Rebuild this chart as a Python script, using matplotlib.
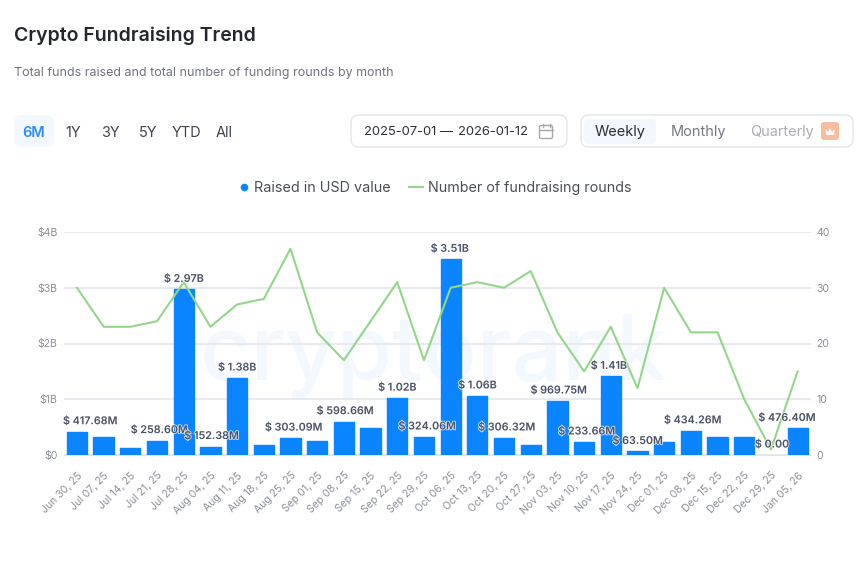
import matplotlib
matplotlib.use("Agg")
import matplotlib.pyplot as plt
import matplotlib.patheffects as pe
from matplotlib.patches import FancyBboxPatch
from matplotlib.lines import Line2D

plt.rcParams['font.family'] = ['Inter', 'DejaVu Sans']

weeks = ['Jun 30, 25', 'Jul 07, 25', 'Jul 14, 25', 'Jul 21, 25', 'Jul 28, 25', 'Aug 04, 25', 'Aug 11, 25',
         'Aug 18, 25', 'Aug 25, 25', 'Sep 01, 25', 'Sep 08, 25', 'Sep 15, 25', 'Sep 22, 25', 'Sep 29, 25',
         'Oct 06, 25', 'Oct 13, 25', 'Oct 20, 25', 'Oct 27, 25', 'Nov 03, 25', 'Nov 10, 25', 'Nov 17, 25',
         'Nov 24, 25', 'Dec 01, 25', 'Dec 08, 25', 'Dec 15, 25', 'Dec 22, 25', 'Dec 29, 25', 'Jan 05, 26']
raised = [417.68, 320, 125, 258.60, 2970, 152.38, 1380, 175, 303.09, 260, 598.66, 480, 1020, 324.06,
          3510, 1060, 306.32, 175, 969.75, 233.66, 1410, 63.50, 225, 434.26, 320, 320, 0, 476.40]
rounds = [30, 23, 23, 24, 31, 23, 27, 28, 37, 22, 17, 24, 31, 17, 30, 31, 30, 33, 22, 15, 23, 12, 30, 22, 22, 10, 1, 15]
# only some bars carry a label in the original
labels = {0: '$ 417.68M', 3: '$ 258.60M', 4: '$ 2.97B', 5: '$ 152.38M', 6: '$ 1.38B', 8: '$ 303.09M',
          10: '$ 598.66M', 12: '$ 1.02B', 13: '$ 324.06M', 14: '$ 3.51B', 15: '$ 1.06B', 16: '$ 306.32M',
          18: '$ 969.75M', 19: '$ 233.66M', 20: '$ 1.41B', 21: '$ 63.50M', 23: '$ 434.26M', 26: '$ 0.00',
          27: '$ 476.40M'}
# sideways nudge of the labels in px, the chart keeps them inside its plot area
label_shift = {0: 13, 3: 2, 5: 1, 8: 3, 10: 1, 13: 3, 14: -1, 16: 2.5, 18: 1, 19: 2.4, 20: -2, 23: 1.6, 26: 1, 27: -11}
left_ticks = ['$0', '$1B', '$2B', '$3B', '$4B']
right_ticks = [0, 10, 20, 30, 40]

W, H = 858, 569
BLUE = '#0a84ff'
GREEN = '#93d68a'
GREY = '#8b8f98'
DARK = '#2b2f38'


def px(size):
    return size * 0.72


fig = plt.figure(figsize=(W / 100, H / 100), dpi=100, facecolor='white')

# overlay in pixel coordinates for the page furniture
ui = fig.add_axes([0, 0, 1, 1], zorder=0)
ui.set_xlim(0, W)
ui.set_ylim(H, 0)
ui.axis('off')


def box(x, y, w, h, face='white', edge='none', r=8):
    ui.add_patch(FancyBboxPatch((x + r, y + r), w - 2 * r, h - 2 * r, boxstyle=f'round,pad={r}',
                                fc=face, ec=edge, lw=1))


def label(x, y, s, size=14.5, color='#40444d', ha='left', weight='normal'):
    ui.text(x, y, s, fontsize=px(size), color=color, ha=ha, va='center', weight=weight)


label(14, 35.5, 'Crypto Fundraising Trend', size=19.5, color='#24272e', weight='semibold')
label(14, 73, 'Total funds raised and total number of funding rounds by month', size=12.45, color='#6f737c')

box(14, 115, 40, 32, face='#f3f8ff')
label(34, 133, '6M', color='#2b8cff', ha='center', weight='semibold')
for x, s in zip([73, 110.5, 148, 186, 224], ['1Y', '3Y', '5Y', 'YTD', 'All']):
    label(x, 133, s, ha='center')

box(351, 115, 216, 32, edge='#e3e6ec')
label(364, 132, '2025-07-01', size=13, color=DARK)
label(447, 132, '—', size=13, color=DARK, ha='center')
label(528, 132, '2026-01-12', size=13, color=DARK, ha='right')
# calendar icon
ui.add_patch(FancyBboxPatch((541, 127), 10, 10, boxstyle='round,pad=1.5', fc='none', ec='#a4a7ae', lw=1))
ui.add_line(Line2D([539.5, 552.5], [130, 130], color='#a4a7ae', lw=1))
ui.add_line(Line2D([542.5, 542.5], [124, 127], color='#a4a7ae', lw=1))
ui.add_line(Line2D([549.5, 549.5], [124, 127], color='#a4a7ae', lw=1))

box(581, 115, 272, 32, edge='#e3e6ec')
box(584, 119, 72, 25, face='#f3f8ff', r=5)
label(620, 132, 'Weekly', color=DARK, ha='center')
label(698, 132, 'Monthly', color='#767a83', ha='center')
label(782, 132, 'Quarterly', color='#a9acb3', ha='center')
box(821, 122, 18, 18, face='#f9bd9e', r=3)
ui.fill([826, 825.5, 828, 830, 832, 834.5, 834, 826], [135, 129, 132, 128, 132, 129, 135, 135], color='white', lw=0)

# legend
ui.plot([244], [187], 'o', color=BLUE, ms=5.5, mew=0)
label(254, 188, 'Raised in USD value', size=14.4, color='#4a4e57')
ui.add_line(Line2D([409, 423], [187, 187], color=GREEN, lw=1.5))
label(428, 188, 'Number of fundraising rounds', size=14.25, color='#4a4e57')

# watermark
ui.text(433, 380, 'cryptorank', fontsize=px(89.5), color='#f3f8ff', ha='center', va='baseline', weight='medium', zorder=1)

# chart, the y span 232-455 px matches the grid
ax = fig.add_axes([63.6 / W, 1 - 455 / H, (811 - 63.6) / W, (455 - 232) / H], zorder=2)
ax.patch.set_alpha(0)
x = list(range(len(weeks)))
bars = ax.bar(x, raised, width=0.76, color=BLUE, edgecolor=BLUE, linewidth=1, zorder=3)
for b, v in zip(bars, raised):
    b.set_joinstyle('round')
    if v == 0:
        b.set_linewidth(0)
ax.set_xlim(-0.5, len(weeks) - 0.5)
ax.set_ylim(0, 4000)
ax.set_yticks([0, 1000, 2000, 3000, 4000], left_ticks)
ax.set_xticks(x, weeks, rotation=45, ha='right', va='top', rotation_mode='anchor')
ax.tick_params(axis='both', length=0, labelsize=px(10.5), labelcolor=GREY)
ax.tick_params(axis='x', pad=11)
ax.tick_params(axis='y', pad=4.5)
ax.grid(axis='y', color='#e8eaef', lw=1.5, zorder=0)
ax.set_axisbelow(True)
for s in ['top', 'left', 'right']:
    ax.spines[s].set_visible(False)
ax.spines['bottom'].set_color('#e0e2e8')

ax2 = ax.twinx()
ax2.set_ylim(0, 40)
ax2.set_yticks([0, 10, 20, 30, 40], [str(t) for t in right_ticks])
ax2.tick_params(axis='y', length=0, labelsize=px(10.5), labelcolor=GREY, pad=4)
for s in ax2.spines.values():
    s.set_visible(False)
ax2.plot(x, rounds, color=GREEN, lw=1.5, zorder=4)

# data labels on top of everything, white halo as in the original
for i, s in labels.items():
    ax2.annotate(s, (i, raised[i] / 100), xytext=(px(label_shift.get(i, 0)), px(10.5)), textcoords='offset points',
                 ha='center', va='center', fontsize=px(10.7), color='#4c5266', weight='semibold', zorder=6,
                 path_effects=[pe.withStroke(linewidth=1.2, foreground='white', alpha=0.8)])

fig.savefig('out.png', dpi=100)
